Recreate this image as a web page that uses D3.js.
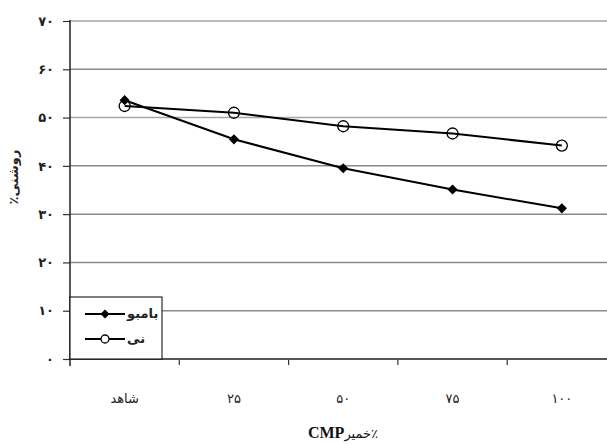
<!DOCTYPE html>
<html><head><meta charset="utf-8">
<script src="https://cdn.jsdelivr.net/npm/d3@7"></script>
<style>body{margin:0;background:#fff}svg{display:block}</style>
</head><body>
<script>
const categories = ["شاهد","۲۵","۵۰","۷۵","۱۰۰"];
const bambooValues = [53.6, 45.5, 39.5, 35.1, 31.2];
const reedValues = [52.4, 51.0, 48.2, 46.7, 44.2];
const yTicks = [0,10,20,30,40,50,60,70];
const yTickLabels = ["۰","۱۰","۲۰","۳۰","۴۰","۵۰","۶۰","۷۰"];
const seriesNames = ["بامبو","نی"];

(function(){
const W = 607, H = 445;
const svg = d3.select("body").append("svg").attr("width", W).attr("height", H);
const pLeft = 70, pTop = 21, pBottom = 359, bandW = 109.3;
const x = d3.scaleBand().domain(categories).range([pLeft, pLeft + bandW*categories.length]);
const y = d3.scaleLinear().domain([0,70]).range([pBottom, pTop]);
const font = "'DejaVu Sans', sans-serif";

// gridlines
svg.append("g").selectAll("line").data(yTicks.filter(d=>d>0)).join("line")
  .attr("x1", pLeft).attr("x2", W).attr("y1", d=>y(d)).attr("y2", d=>y(d))
  .attr("stroke", d=> d===50||d===70 ? "#a6a6a6" : "#8a8a8a").attr("stroke-width", 1.5);

// y axis
const yAxis = d3.axisLeft(y).tickValues(yTicks).tickSize(7).tickFormat((d,i)=>yTickLabels[i]);
const gy = svg.append("g").attr("transform", `translate(${pLeft},0)`).call(yAxis);
gy.select(".domain").remove();
gy.selectAll(".tick line").attr("stroke","#333").attr("stroke-width",1.2);
gy.selectAll(".tick text").attr("x",-16).attr("font-family",font).attr("font-size",13).attr("font-weight","bold").attr("fill","#222");
svg.append("line").attr("x1",pLeft).attr("x2",pLeft).attr("y1",pTop-1).attr("y2",pBottom+7).attr("stroke","#222").attr("stroke-width",1.5);

// x axis
const xAxis = d3.axisBottom(x).tickSize(0).tickFormat(d=>d);
const gx = svg.append("g").attr("transform",`translate(0,${pBottom})`).call(xAxis);
gx.select(".domain").remove();
gx.selectAll(".tick text").attr("y",44).attr("dy",0).attr("font-family",font).attr("font-size",13).attr("fill","#222");
svg.append("g").selectAll("line").data(categories).join("line")
  .attr("x1",d=>x(d)+bandW).attr("x2",d=>x(d)+bandW).attr("y1",pBottom).attr("y2",pBottom+6)
  .attr("stroke","#333").attr("stroke-width",1.2);
svg.append("line").attr("x1",pLeft).attr("x2",W).attr("y1",pBottom).attr("y2",pBottom).attr("stroke","#555").attr("stroke-width",2.2);

// lines
const cx = d => x(d) + x.bandwidth()/2;
const line = d3.line().x(d=>cx(d.c)).y(d=>y(d.v));
const bamboo = categories.map((c,i)=>({c, v:bambooValues[i]}));
const reed = categories.map((c,i)=>({c, v:reedValues[i]}));
svg.append("path").datum(reed).attr("d",line).attr("fill","none").attr("stroke","#000").attr("stroke-width",2);
svg.append("path").datum(bamboo).attr("d",line).attr("fill","none").attr("stroke","#000").attr("stroke-width",2);
svg.append("g").selectAll("circle").data(reed).join("circle")
  .attr("cx",d=>cx(d.c)).attr("cy",d=>y(d.v)).attr("r",5.5).attr("fill","none").attr("stroke","#000").attr("stroke-width",1.3);
const diamond = d3.symbol().type(d3.symbolSquare).size(52);
svg.append("g").selectAll("path").data(bamboo).join("path")
  .attr("d",diamond).attr("transform",d=>`translate(${cx(d.c)},${y(d.v)}) rotate(45)`).attr("fill","#000");

// legend
const lg = svg.append("g");
lg.append("rect").attr("x",pLeft).attr("y",297).attr("width",92).attr("height",pBottom-297).attr("fill","#fff").attr("stroke","#000").attr("stroke-width",1);
const ly = [314, 339];
ly.forEach((yy,i)=>{
  lg.append("line").attr("x1",85).attr("x2",125).attr("y1",yy).attr("y2",yy).attr("stroke","#000").attr("stroke-width",2);
  if(i===0) lg.append("path").attr("d",d3.symbol().type(d3.symbolSquare).size(40)).attr("transform",`translate(105,${yy}) rotate(45)`).attr("fill","#000");
  else lg.append("circle").attr("cx",105).attr("cy",yy).attr("r",4).attr("fill","#fff").attr("stroke","#000").attr("stroke-width",1.3);
  lg.append("text").attr("x",127).attr("y",yy+4).attr("font-family",font).attr("font-size",13).attr("font-weight","bold").attr("fill","#222").text(seriesNames[i]);
});

// y title
svg.append("text").attr("transform","translate(18,177) rotate(-90)").attr("text-anchor","middle")
  .attr("font-family",font).attr("font-size",13).attr("font-weight","bold").attr("fill","#222").text("٪روشنی");

// x title
const xt = svg.append("text").attr("x",343).attr("y",438).attr("text-anchor","middle").attr("fill","#111");
xt.append("tspan").attr("font-family","'Liberation Serif', serif").attr("font-weight","bold").attr("font-size",16).text("CMP");
xt.append("tspan").attr("font-family",font).attr("font-size",13).text("خمیر");
xt.append("tspan").attr("font-family",font).attr("font-size",13).text("٪");
})();
</script>
</body></html>
